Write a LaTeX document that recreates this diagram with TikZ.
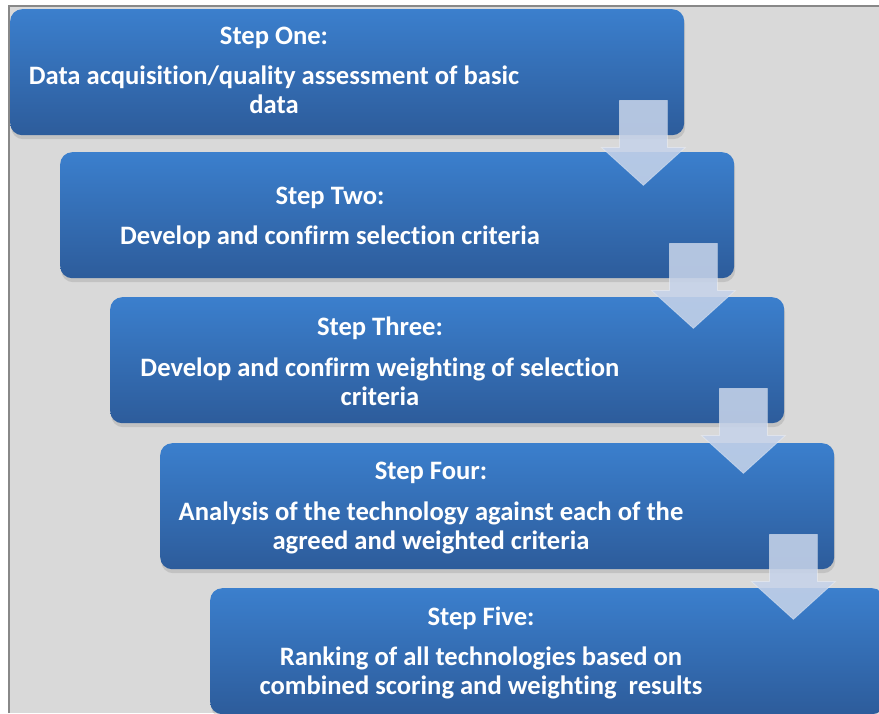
\documentclass[tikz,border=0pt]{standalone}
\usepackage{fontspec}
\setmainfont{Carlito}[Ligatures={NoCommon,NoRare}]
\usetikzlibrary{calc,shadows}
\definecolor{bgray}{RGB}{217,217,217}
\definecolor{frameg}{RGB}{136,136,136}
\definecolor{boxtop}{RGB}{59,127,205}
\definecolor{boxbot}{RGB}{45,92,155}
\definecolor{arrowc}{RGB}{198,211,233}
\tikzset{
  stepbox/.style={rectangle, rounded corners=12pt, minimum width=674pt,
    minimum height=126pt, inner sep=0pt, anchor=north west,
    top color=boxtop, bottom color=boxbot,
    drop shadow={shadow xshift=1pt, shadow yshift=-4pt, opacity=0.25}},
  steptitle/.style={anchor=base, inner sep=0pt, text=white,
    font=\fontsize{26.6}{29.5}\selectfont\bfseries},
  stepbody/.style={anchor=base, inner sep=0pt, text=white,
    font=\fontsize{26.6}{29.5}\selectfont\bfseries},
  downarrow/.style={fill=arrowc, fill opacity=0.88, draw=white, draw opacity=0.35, line width=0.8pt},
}
\newcommand{\twolines}[2]{\begin{tabular}[t]{@{}c@{}}#1\\#2\end{tabular}}
\begin{document}
\begin{tikzpicture}[x=1pt,y=-1pt]
\useasboundingbox (0,0) rectangle (879,713);
\clip (0,0) rectangle (879,713);
\fill[white] (0,0) rectangle (879,713);
\fill[bgray] (9,6) rectangle (879,713);
\draw[frameg, line width=1.2pt] (9,713) -- (9,6) -- (879,6);

\node[stepbox] (b1) at (10,9) {};
\node[stepbox] (b2) at (60,152) {};
\node[stepbox] (b3) at (110,297) {};
\node[stepbox] (b4) at (160,443) {};
\node[stepbox] (b5) at (210,588) {};

\node[steptitle] (t1) at (274,44) {Step One:};
\node[stepbody] (d1) at (274,84) {\twolines{Data acquisition/quality assessment of basic}{data}};
\node[steptitle] (t2) at (330,204) {Step Two:};
\node[stepbody] (d2) at (330,244) {Develop and confirm selection criteria};
\node[steptitle] (t3) at (380,335) {Step Three:};
\node[stepbody] (d3) at (380,376) {\twolines{Develop and confirm weighting of selection}{criteria}};
\node[steptitle] (t4) at (431,479) {Step Four:};
\node[stepbody] (d4) at (431,520) {\twolines{Analysis of the technology against each of the}{agreed and weighted criteria}};
\node[steptitle] (t5) at (481,625) {Step Five:};
\node[stepbody] (d5) at (481,665) {\twolines{Ranking of all technologies based on}{combined scoring and weighting\ \ results}};

\foreach \i in {1,...,4}{
  \coordinate (a\i) at ($(b\i.south east)+(-41,0)$);
  \filldraw[downarrow, shift={(a\i)}]
    (-24,-35) -- (24,-35) -- (24,12) -- (42,12) -- (0,50) -- (-42,12) -- (-24,12) -- cycle;
}
\end{tikzpicture}
\end{document}
